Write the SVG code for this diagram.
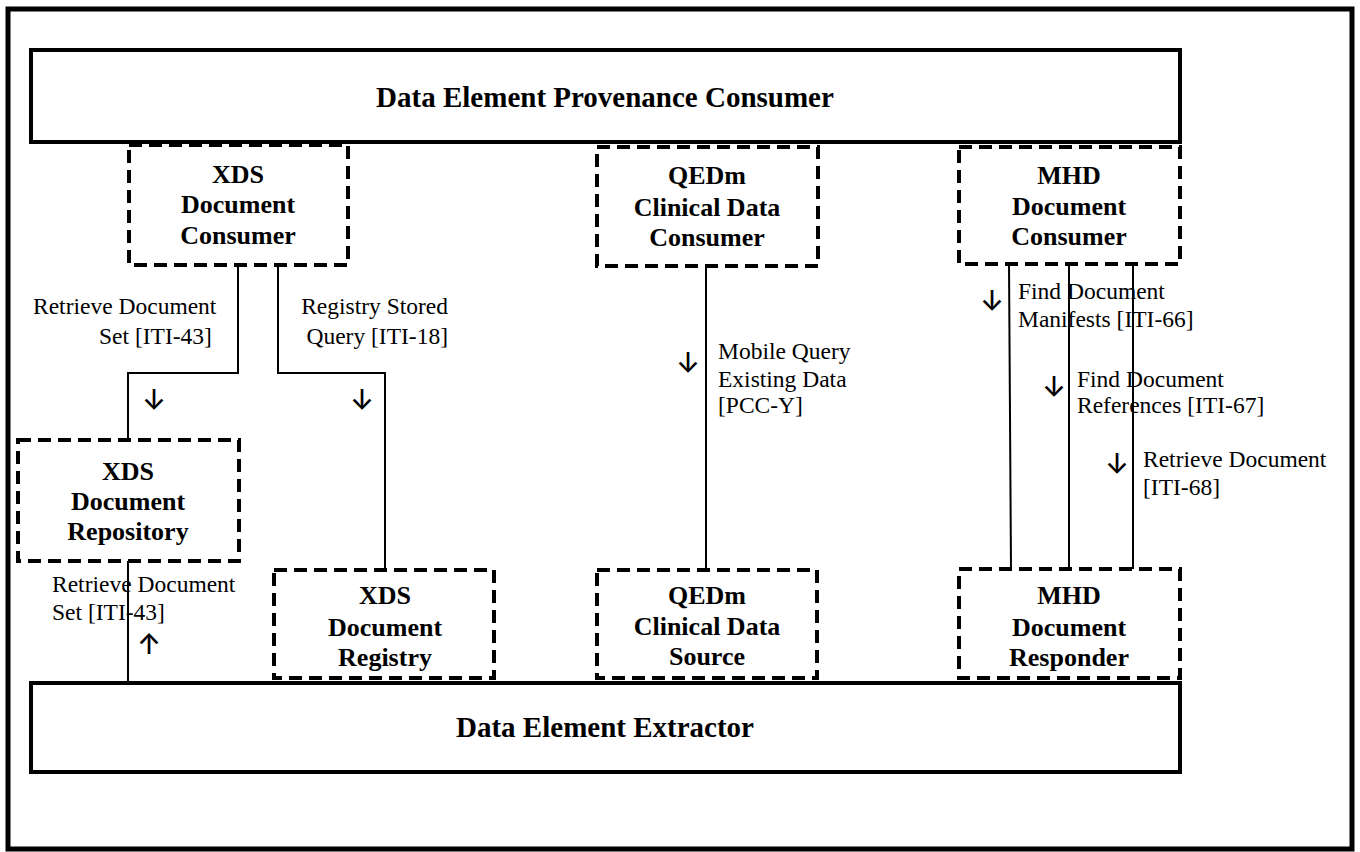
<svg xmlns="http://www.w3.org/2000/svg" width="1360" height="852" viewBox="0 0 1360 852">
  <style>
    .frame { fill: none; stroke: #000; stroke-width: 5; }
    .bar { fill: #fff; stroke: #000; stroke-width: 4; }
    .actor { fill: #fff; stroke: #000; stroke-width: 4; stroke-dasharray: 13 7; }
    .wire { fill: none; stroke: #000; stroke-width: 2; }
    .title { font-family: "Liberation Serif", "Times New Roman", serif; font-weight: bold; font-size: 29px; text-anchor: middle; fill: #000; }
    .name { font-family: "Liberation Serif", "Times New Roman", serif; font-weight: bold; font-size: 26px; text-anchor: middle; fill: #000; }
    .label { font-family: "Liberation Serif", "Times New Roman", serif; font-size: 23.5px; fill: #000; }
    .dir { font-family: Inter, "DejaVu Sans", sans-serif; font-size: 28px; font-weight: 500; text-anchor: middle; fill: #000; }
  </style>

  <rect width="1360" height="852" fill="#fff"/>
  <rect class="frame" x="8" y="9" width="1344" height="840"/>

  <!-- transactions -->
  <g id="connectors">
    <polyline class="wire" points="238,267 238,373 128,373 128,440"/>
    <polyline class="wire" points="278,267 278,373 385,373 385,570"/>
    <line class="wire" x1="128" y1="561" x2="128" y2="683"/>
    <line class="wire" x1="706" y1="266" x2="706" y2="570"/>
    <line class="wire" x1="1009" y1="264" x2="1011" y2="569"/>
    <line class="wire" x1="1069" y1="264" x2="1069" y2="569"/>
    <line class="wire" x1="1133" y1="264" x2="1133" y2="569"/>

    <text class="label" x="33" y="314">Retrieve Document</text>
    <text class="label" x="99" y="344">Set [ITI-43]</text>
    <text class="dir" x="154" y="410">↓</text>

    <text class="label" x="448" y="314" text-anchor="end">Registry Stored</text>
    <text class="label" x="448" y="344" text-anchor="end">Query [ITI-18]</text>
    <text class="dir" x="362" y="410">↓</text>

    <text class="label" x="52" y="592">Retrieve Document</text>
    <text class="label" x="52" y="620">Set [ITI-43]</text>
    <text class="dir" x="149" y="654">↑</text>

    <text class="label" x="718" y="359">Mobile Query</text>
    <text class="label" x="718" y="387">Existing Data</text>
    <text class="label" x="718" y="413">[PCC-Y]</text>
    <text class="dir" x="688" y="373">↓</text>

    <text class="label" x="1018" y="299">Find Document</text>
    <text class="label" x="1018" y="327">Manifests [ITI-66]</text>
    <text class="dir" x="992" y="311">↓</text>

    <text class="label" x="1077" y="387">Find Document</text>
    <text class="label" x="1077" y="413">References [ITI-67]</text>
    <text class="dir" x="1054" y="397">↓</text>

    <text class="label" x="1143" y="467">Retrieve Document</text>
    <text class="label" x="1143" y="495">[ITI-68]</text>
    <text class="dir" x="1117" y="474">↓</text>
  </g>

  <g id="provenance-consumer">
    <rect class="bar" x="31" y="50" width="1149" height="92"/>
    <text class="title" x="605" y="107">Data Element Provenance Consumer</text>
  </g>

  <g id="xds-consumer">
    <rect class="actor" x="129" y="145" width="219" height="120"/>
    <text class="name" x="238" y="183">XDS</text>
    <text class="name" x="238" y="213">Document</text>
    <text class="name" x="238" y="244">Consumer</text>
  </g>

  <g id="qedm-consumer">
    <rect class="actor" x="597" y="147" width="221" height="119"/>
    <text class="name" x="707" y="184">QEDm</text>
    <text class="name" x="707" y="216">Clinical Data</text>
    <text class="name" x="707" y="246">Consumer</text>
  </g>

  <g id="mhd-consumer">
    <rect class="actor" x="959" y="147" width="221" height="117"/>
    <text class="name" x="1069" y="184">MHD</text>
    <text class="name" x="1069" y="215">Document</text>
    <text class="name" x="1069" y="245">Consumer</text>
  </g>

  <g id="xds-repository">
    <rect class="actor" x="18" y="440" width="221" height="121"/>
    <text class="name" x="128" y="480">XDS</text>
    <text class="name" x="128" y="510">Document</text>
    <text class="name" x="128" y="540">Repository</text>
  </g>

  <g id="xds-registry">
    <rect class="actor" x="274" y="570" width="220" height="108"/>
    <text class="name" x="385" y="604">XDS</text>
    <text class="name" x="385" y="636">Document</text>
    <text class="name" x="385" y="666">Registry</text>
  </g>

  <g id="qedm-source">
    <rect class="actor" x="597" y="570" width="220" height="108"/>
    <text class="name" x="707" y="604">QEDm</text>
    <text class="name" x="707" y="635">Clinical Data</text>
    <text class="name" x="707" y="665">Source</text>
  </g>

  <g id="mhd-responder">
    <rect class="actor" x="959" y="569" width="221" height="109"/>
    <text class="name" x="1069" y="604">MHD</text>
    <text class="name" x="1069" y="636">Document</text>
    <text class="name" x="1069" y="666">Responder</text>
  </g>

  <g id="extractor">
    <rect class="bar" x="31" y="683" width="1149" height="89"/>
    <text class="title" x="605" y="737">Data Element Extractor</text>
  </g>
</svg>
